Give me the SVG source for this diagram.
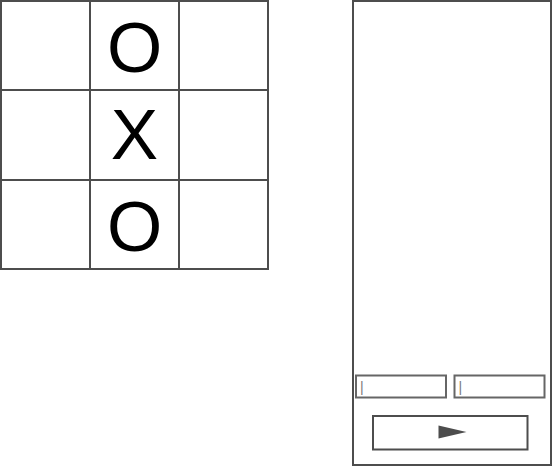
<svg xmlns="http://www.w3.org/2000/svg" width="553" height="467" viewBox="0 0 553 467">
<style>
.cell{fill:#fff;stroke:#4d4d4d;stroke-width:2}
.mark{font-family:"Liberation Sans",Arial,sans-serif;font-size:71px;fill:#000;text-anchor:middle}
.box{fill:#fff;stroke:#4d4d4d;stroke-width:2}
.inp{fill:#fff;stroke:#666;stroke-width:2}
.cur{font-family:"Liberation Sans",Arial,sans-serif;font-size:14px;fill:#7a7a7a}
</style>
<g id="board">
<rect class="cell" x="1" y="1" width="89" height="89"/>
<rect class="cell" x="90" y="1" width="89" height="89"/>
<rect class="cell" x="179" y="1" width="89" height="89"/>
<rect class="cell" x="1" y="90" width="89" height="90"/>
<rect class="cell" x="90" y="90" width="89" height="90"/>
<rect class="cell" x="179" y="90" width="89" height="90"/>
<rect class="cell" x="1" y="180" width="89" height="89"/>
<rect class="cell" x="90" y="180" width="89" height="89"/>
<rect class="cell" x="179" y="180" width="89" height="89"/>
<text class="mark" x="134.5" y="71.5">O</text>
<text class="mark" x="134.5" y="159">X</text>
<text class="mark" x="134.5" y="250.5">O</text>
</g>
<g id="phone">
<rect class="box" x="353" y="1" width="198" height="464"/>
</g>
<g id="input1">
<rect class="inp" x="356" y="375.5" width="90" height="22"/>
<text class="cur" x="360" y="392">|</text>
</g>
<g id="input2">
<rect class="inp" x="454.5" y="375.5" width="90" height="22"/>
<text class="cur" x="458.5" y="392">|</text>
</g>
<g id="button">
<rect class="box" x="373" y="416" width="154.5" height="33.5"/>
<polygon points="438.5,425.5 466.5,432 438.5,438.5" fill="#4d4d4d"/>
</g>
</svg>
